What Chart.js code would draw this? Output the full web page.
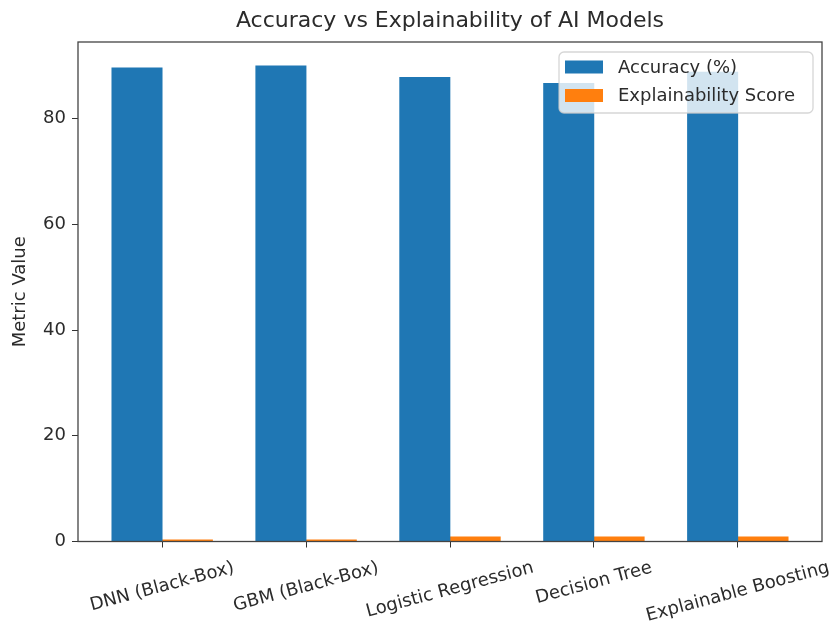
<!DOCTYPE html>
<html>
<head>
<meta charset="utf-8">
<script src="https://cdn.jsdelivr.net/npm/chart.js@4.4.0/dist/chart.umd.min.js"></script>
<style>
  body { margin: 0; background: #fff; }
  canvas { display: block; }
</style>
</head>
<body>
<canvas id="graph" width="834" height="623"></canvas>
<script>
var models = ["DNN (Black-Box)", "GBM (Black-Box)", "Logistic Regression", "Decision Tree", "Explainable Boosting"];
var accuracy = [89.6, 90.0, 87.8, 86.7, 88.8];
var explainability = [0.3, 0.3, 0.9, 0.9, 0.9];
var yTicks = [0, 20, 40, 60, 80];

var barWidth = 0.35;
var fontName = "'DejaVu Sans', sans-serif";
var textColor = "#2b2b2b";

// x tick labels, rotated 15deg and centered under the tick like matplotlib
var xLabelsPlugin = {
    id: "xLabels",
    afterDraw: function(chart) {
        var ctx = chart.ctx;
        var xs = chart.scales.x;
        var angle = 15 * Math.PI / 180;
        ctx.save();
        ctx.font = "18px " + fontName;
        ctx.fillStyle = textColor;
        ctx.textAlign = "center";
        ctx.textBaseline = "middle";
        models.forEach(function(name, i) {
            var px = xs.getPixelForValue(i);
            var w = ctx.measureText(name).width;
            var h = 21;
            var boxH = w * Math.sin(angle) + h * Math.cos(angle);
            var cy = chart.chartArea.bottom + 16 + boxH / 2;
            ctx.save();
            ctx.translate(px, cy);
            ctx.rotate(-angle);
            ctx.fillText(name, 0, 0);
            ctx.restore();
        });
        ctx.restore();
    }
};

// axes box + legend in upper right
var frameLegendPlugin = {
    id: "frameLegend",
    afterDatasetsDraw: function(chart) {
        var ctx = chart.ctx;
        var a = chart.chartArea;
        ctx.save();
        ctx.strokeStyle = "#444";
        ctx.lineWidth = 1.3;
        ctx.strokeRect(a.left, a.top, a.right - a.left, a.bottom - a.top);

        var boxW = 254, boxH = 61;
        var bx = a.right - 9 - boxW;
        var by = a.top + 10;
        ctx.beginPath();
        ctx.roundRect(bx, by, boxW, boxH, 5);
        ctx.fillStyle = "rgba(255,255,255,0.8)";
        ctx.fill();
        ctx.strokeStyle = "rgba(204,204,204,0.8)";
        ctx.lineWidth = 1.3;
        ctx.stroke();

        ctx.font = "18px " + fontName;
        ctx.textAlign = "left";
        ctx.textBaseline = "middle";
        chart.data.datasets.forEach(function(ds, i) {
            var cy = by + 15 + i * 28.5;
            ctx.fillStyle = ds.backgroundColor;
            ctx.fillRect(bx + 6, cy - 6.5, 38, 13);
            ctx.fillStyle = textColor;
            ctx.fillText(ds.label, bx + 59, cy + 1);
        });
        ctx.restore();
    }
};

var ctx = document.getElementById("graph").getContext("2d");
var chart = new Chart(ctx, {
    type: "bar",
    data: {
        datasets: [
            {
                label: "Accuracy (%)",
                data: models.map(function(m, i) { return { x: i - barWidth / 2, y: accuracy[i] }; }),
                backgroundColor: "#1f77b4"
            },
            {
                label: "Explainability Score",
                data: models.map(function(m, i) { return { x: i + barWidth / 2, y: explainability[i] }; }),
                backgroundColor: "#ff7f0e"
            }
        ]
    },
    options: {
        responsive: false,
        animation: false,
        grouped: false,
        barPercentage: 1,
        categoryPercentage: 1,
        layout: { padding: { top: 0, right: 12, bottom: 0, left: 0 } },
        scales: {
            x: {
                type: "linear",
                offset: false,
                min: -0.585,
                max: 4.585,
                afterBuildTicks: function(scale) {
                    scale.ticks = models.map(function(m, i) { return { value: i }; });
                },
                afterFit: function(scale) { scale.height = 81.5; },
                ticks: { display: false },
                grid: { offset: false, drawOnChartArea: false, drawTicks: true, tickLength: 6, color: "#333" },
                border: { display: false }
            },
            y: {
                type: "linear",
                min: 0,
                max: 94.5,
                afterBuildTicks: function(scale) {
                    scale.ticks = yTicks.map(function(v) { return { value: v }; });
                },
                afterFit: function(scale) { scale.width = 78; },
                ticks: {
                    font: { family: fontName, size: 18 },
                    color: textColor,
                    padding: 6
                },
                grid: { drawOnChartArea: false, drawTicks: true, tickLength: 6, color: "#333" },
                border: { display: false },
                title: {
                    display: true,
                    text: "Metric Value",
                    font: { family: fontName, size: 18 },
                    color: textColor,
                    padding: { top: 10, bottom: 0 }
                }
            }
        },
        plugins: {
            legend: { display: false },
            tooltip: { enabled: false },
            title: {
                display: true,
                fullSize: false,
                text: "Accuracy vs Explainability of AI Models",
                font: { family: fontName, size: 22, weight: "normal" },
                color: textColor,
                padding: { top: 8.5, bottom: 7.1 }
            }
        }
    },
    plugins: [frameLegendPlugin, xLabelsPlugin]
});
</script>
</body>
</html>
